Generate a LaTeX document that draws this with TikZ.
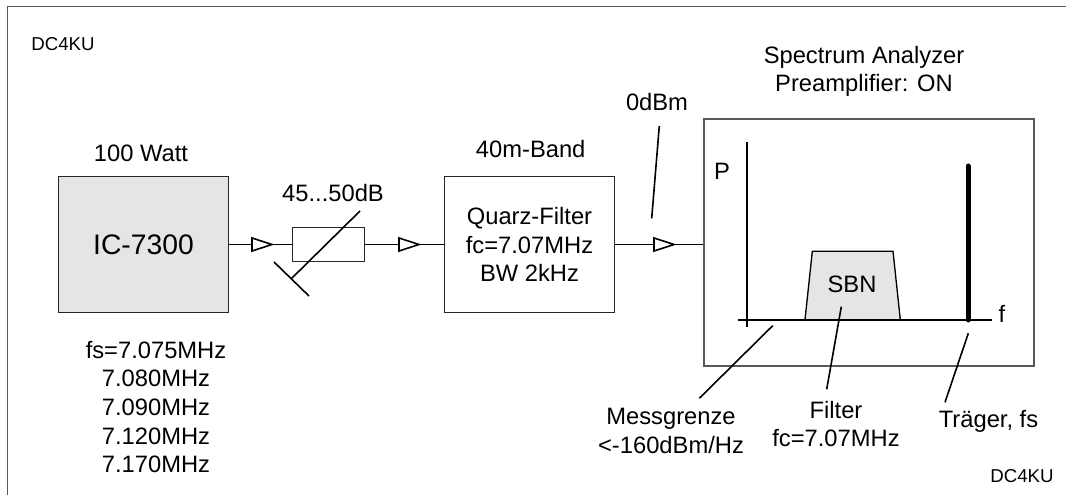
\documentclass[tikz,border=0pt]{standalone}
\usepackage{fontspec}
\setmainfont{Liberation Sans}
\usepackage{tikz}
\usepackage{xcolor}
\definecolor{boxgray}{RGB}{229,229,229}
\tikzset{
    label18/.style={font=\fontsize{17.8}{21.5}\selectfont, align=center, inner sep=0pt},
    label14/.style={font=\fontsize{14}{17}\selectfont, inner sep=0pt},
    wire/.style={line width=1.2pt, black},
    buffer/.style={draw=black, fill=white, line width=1.2pt}
}
\begin{document}
\begin{tikzpicture}[x=0.75pt, y=-0.75pt]
    \useasboundingbox (0,0) rectangle (1066,495);
    % Frame
    \draw[black!65, line width=1pt] (7.7,495) -- (7.7,6.7) -- (1066,6.7);

    % Signature
    \node[label14] (signA) at (63,44) {DC4KU};
    \node[label14] (signB) at (1022,476) {DC4KU};

    % Transceiver
    \node[draw=black!85, fill=boxgray, line width=0.8pt, minimum width=127.8pt, minimum height=101.7pt, label18, font=\fontsize{21.2}{25}\selectfont] (trx) at (143.5,244.5) {IC-7300};
    \node[label18] (power) at (141,153) {100 Watt};
    \node[label18] (freq) at (156,407) {fs=7.075MHz\\7.080MHz\\7.090MHz\\7.120MHz\\7.170MHz};

    % Attenuator
    \node[draw=black!85, line width=0.8pt, minimum width=54pt, minimum height=25.5pt] (att) at (328.5,244.5) {};
    \node[label18] (attlabel) at (333,193) {45...50dB};
    \coordinate (slantA) at (360,211);
    \coordinate (slantB) at (291,279);
    \coordinate (stemA) at (274,262);
    \coordinate (stemB) at (309,296);
    \draw[wire] (slantA) -- (slantB);
    \draw[wire] (stemA) -- (stemB);

    % Filter
    \node[draw=black!85, line width=0.8pt, minimum width=127.5pt, minimum height=101.7pt, label18] (filter) at (529.5,244.5) {Quarz-Filter\\fc=7.07MHz\\BW 2kHz};
    \node[label18] (band) at (530.7,149.5) {40m-Band};

    % Analyzer
    \node[draw=black!65, line width=1pt, minimum width=247.5pt, minimum height=185.25pt] (sa) at (869,242.5) {};
    \node[label18] (satitle) at (864,71.5) {Spectrum Analyzer\\Preamplifier: ON};
    \node[label18] (odbm) at (657,102) {0dBm};
    \coordinate (odbmA) at (659.3,126);
    \coordinate (odbmB) at (651.7,218.3);

    % Connections
    \draw[wire] (trx.east |- att) -- (att);
    \draw[wire] (att) -- (filter);
    \draw[wire] (filter) -- (sa.west |- filter);
    \draw[wire] (odbmA) -- (odbmB);
    \draw[buffer] (252,238) -- (272,244.5) -- (252,251) -- cycle;
    \draw[buffer] (399,238) -- (419,244.5) -- (399,251) -- cycle;
    \draw[buffer] (654,238) -- (674,244.5) -- (654,251) -- cycle;

    % Spectrum plot
    \coordinate (yaxisA) at (747,142.3);
    \coordinate (yaxisB) at (747,327);
    \coordinate (xaxisA) at (738,319.7);
    \coordinate (xaxisB) at (992,319.7);
    \draw[wire] (yaxisA) -- (yaxisB);
    \node[label18] (paxis) at (722,171) {P};
    \node[label18] (faxis) at (1002,314) {f};
    \draw[draw=black, fill=boxgray, line width=1pt] (805,319.7) -- (812.3,251.3) -- (893,251.3) -- (900.3,319.7) -- cycle;
    \node[label18] (sbn) at (852,284) {SBN};
    \draw[wire] (xaxisA) -- (xaxisB);
    \coordinate (carrierA) at (968,166);
    \coordinate (carrierB) at (968,320);
    \draw[black, line width=3.75pt, line cap=round] (carrierA) -- (carrierB);

    % Callouts
    \node[label18] (limit) at (671,431) {Messgrenze\\<-160dBm/Hz};
    \node[label18] (filtfc) at (836,424) {Filter\\fc=7.07MHz};
    \node[label18] (carrierlabel) at (988.5,421) {Träger, fs};
    \coordinate (limA) at (772.7,325.7);
    \coordinate (limB) at (699.3,398.3);
    \coordinate (filA) at (841.3,306.7);
    \coordinate (filB) at (826.7,389.3);
    \coordinate (carA) at (968.3,333.3);
    \coordinate (carB) at (945,402.3);
    \draw[wire] (limA) -- (limB);
    \draw[wire] (filA) -- (filB);
    \draw[wire] (carA) -- (carB);
\end{tikzpicture}
\end{document}
